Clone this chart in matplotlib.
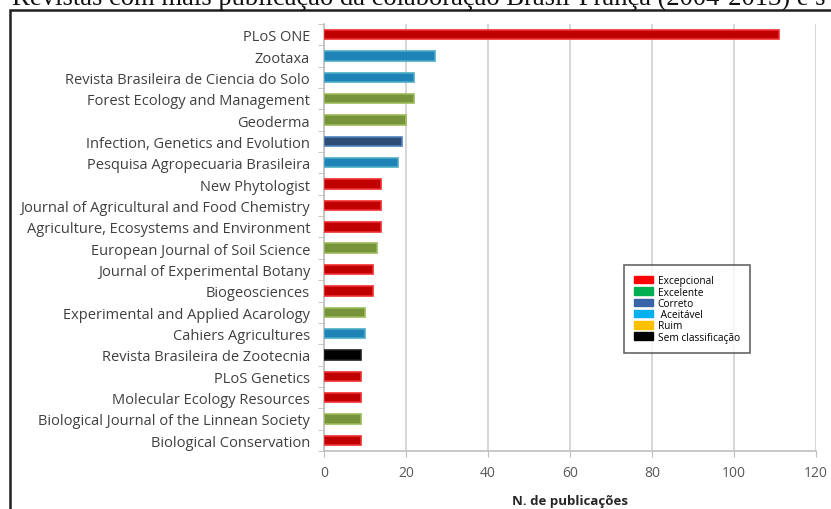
import matplotlib.pyplot as plt
from matplotlib.patches import Patch, Rectangle

# journals, top to bottom
journals = ["PLoS ONE", "Zootaxa", "Revista Brasileira de Ciencia do Solo",
            "Forest Ecology and Management", "Geoderma",
            "Infection, Genetics and Evolution", "Pesquisa Agropecuaria Brasileira",
            "New Phytologist", "Journal of Agricultural and Food Chemistry",
            "Agriculture, Ecosystems and Environment", "European Journal of Soil Science",
            "Journal of Experimental Botany", "Biogeosciences",
            "Experimental and Applied Acarology", "Cahiers Agricultures",
            "Revista Brasileira de Zootecnia", "PLoS Genetics",
            "Molecular Ecology Resources", "Biological Journal of the Linnean Society",
            "Biological Conservation"]
publicacoes = [111, 27, 22, 22, 20, 19, 18, 14, 14, 14, 13, 12, 12, 10, 10, 9, 9, 9, 9, 9]
classe = ["exc", "ace", "ace", "exl", "exl", "cor", "ace", "exc", "exc", "exc",
          "exl", "exc", "exc", "exl", "ace", "sem", "exc", "exc", "exl", "exc"]

bar_face = {"exc": "#C00000", "exl": "#77933C", "cor": "#2C4D75", "ace": "#1F83B8", "sem": "#000000"}
bar_edge = {"exc": "#F03030", "exl": "#9BBB59", "cor": "#4F81BD", "ace": "#4BACC6", "sem": "#202020"}

leg_labels = ["Excepcional", "Excelente", "Correto", " Aceitável", "Ruim", "Sem classificação"]
leg_colors = ["#FF0000", "#00B050", "#3A64A8", "#00B0F0", "#FFC000", "#000000"]

fig = plt.figure(figsize=(8.31, 5.10), dpi=100)
ax = fig.add_axes([324/831, 58/510, 492/831, 427/510])

ypos = list(range(len(journals)))[::-1]
for y, v, c in zip(ypos, publicacoes, classe):
    ax.barh(y, v, height=0.44, color=bar_face[c], edgecolor=bar_edge[c], linewidth=1.2, zorder=3)

ax.set_xlim(0, 120)
ax.set_ylim(-0.5, len(journals) - 0.5)
ax.set_xticks(range(0, 121, 20))
ax.set_yticks(ypos)
ax.set_yticklabels(journals, fontsize=10.5, color="#404040", family="Open Sans")
ax.set_yticks([y - 0.5 for y in range(len(journals) + 1)], minor=True)
ax.tick_params(axis="y", which="major", length=0, pad=10)
ax.tick_params(axis="y", which="minor", length=4, color="#BFBFBF")
ax.tick_params(axis="x", length=4, color="#BFBFBF", labelsize=10, labelcolor="#595959", pad=6)
for lab in ax.get_xticklabels():
    lab.set_family("Open Sans")
ax.grid(axis="x", color="#D0D0D0", linewidth=1.2, zorder=0)
for s in ["top", "right"]:
    ax.spines[s].set_visible(False)
for s in ["left", "bottom"]:
    ax.spines[s].set_color("#BFBFBF")
    ax.spines[s].set_linewidth(1.2)
ax.set_xlabel("N. de publicações", fontsize=9.5, fontweight="bold", color="#262626",
              family="Open Sans", labelpad=10)

handles = [Patch(facecolor=c, edgecolor=c) for c in leg_colors]
leg = ax.legend(handles, leg_labels, loc="upper left", bbox_to_anchor=(295/492, (452-261)/427),
                frameon=True, fancybox=False, edgecolor="#404040",
                handlelength=1.9, handleheight=0.75, handletextpad=0.4, labelspacing=0.03,
                borderpad=1.0, prop={"family": "Open Sans", "size": 7.3})
leg.get_frame().set_linewidth(1.2)

# outer frame and cut title
fig.patches.append(Rectangle((10/831, -0.1), 1.0, (510 - 11)/510 + 0.1, transform=fig.transFigure,
                             fill=False, edgecolor="#202020", linewidth=1.8))
fig.text(12/831, 1 - 5/510, "Revistas com mais publicação da colaboração Brasil-França (2004-2013) e s",
         fontsize=19.2, family="Liberation Serif", va="baseline", ha="left", color="#111111")

fig.savefig("out.png", dpi=100)
